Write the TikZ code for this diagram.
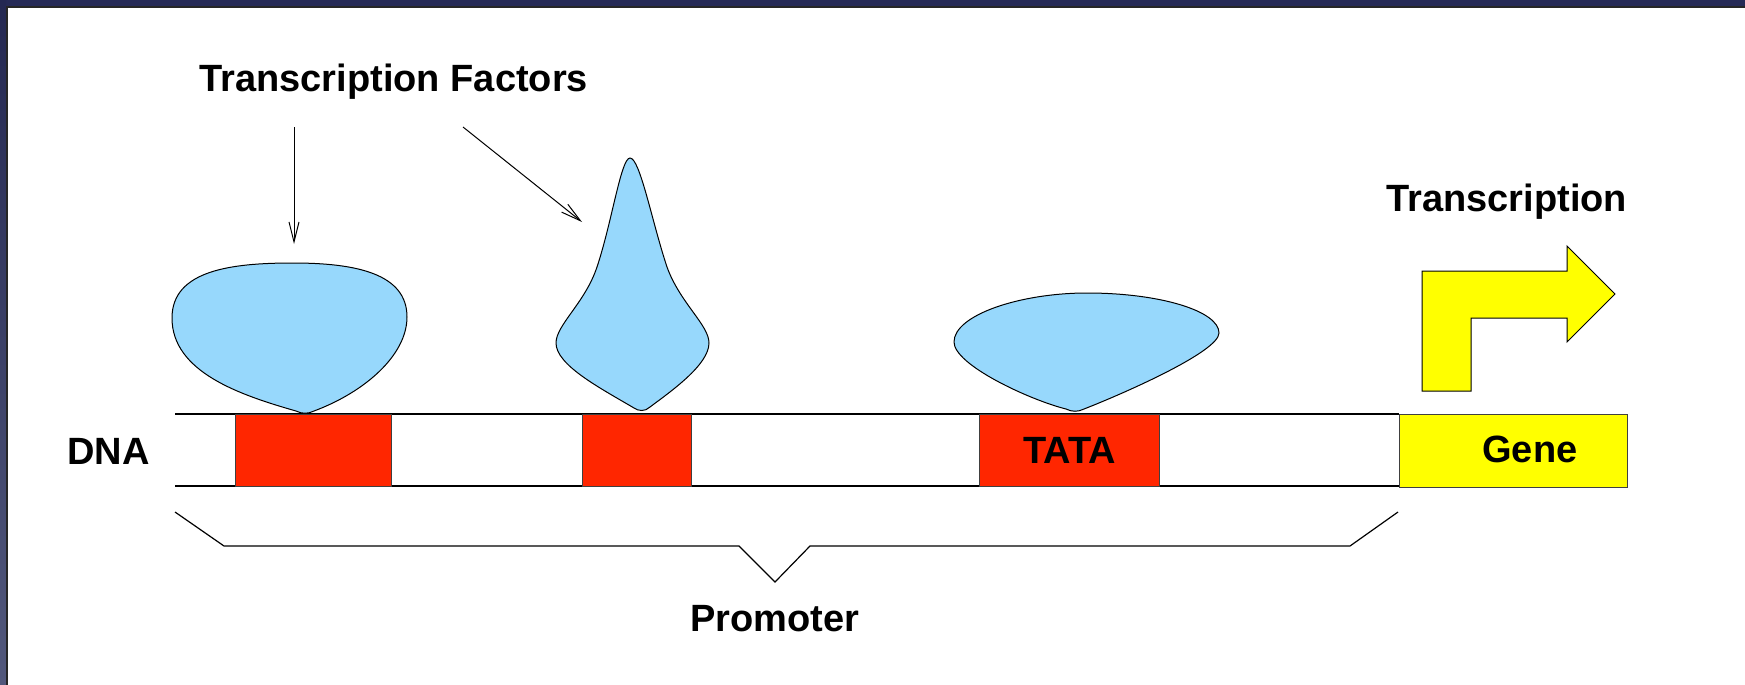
\documentclass[tikz,border=0pt]{standalone}
\usepackage{fontspec}
\setmainfont{Liberation Sans}
\usetikzlibrary{arrows.meta}

\definecolor{tfblue}{RGB}{151,216,252}
\definecolor{boxred}{RGB}{255,38,0}
\definecolor{geneyellow}{RGB}{255,255,0}
\definecolor{framenavy}{RGB}{38,42,86}
\definecolor{framelow}{RGB}{82,88,124}

\begin{document}
\begin{tikzpicture}[x=0.5pt,y=-0.5pt,
  lbl/.style={font=\fontsize{19}{22}\selectfont\bfseries, inner sep=0pt, anchor=base west},
  factor/.style={draw=black, line width=0.5pt, fill=tfblue},
  site/.style={draw=black!75, line width=0.5pt, fill=boxred, minimum height=36pt,
    inner sep=0pt, anchor=north west, font=\fontsize{19}{22}\selectfont\bfseries},
  genebox/.style={draw=black!75, line width=0.5pt, fill=geneyellow, minimum height=36.5pt,
    minimum width=114pt, inner sep=0pt, anchor=north west},
  strand/.style={draw=black, line width=0.7pt},
  pointer/.style={draw=black, line width=0.5pt,
    -{Straight Barb[length=10pt, width=5pt]}},
  bracket/.style={draw=black, line width=0.6pt},
  bentarrow/.style={draw=black, line width=0.5pt, fill=geneyellow}
]
% page area
\fill[white] (0,0) rectangle (1745,685);
\useasboundingbox (0,0) rectangle (1745,685);

% window frame (top and left edges)
\fill[framenavy] (0,0) rectangle (1745,6);
\shade[top color=framenavy!95!black, bottom color=framelow] (0,0) rectangle (6,685);
\fill[black!85] (6,6) rectangle (1745,7.5);
\fill[black!85] (6,6) rectangle (7.5,685);

% DNA strand
\draw[strand] (175,414) -- (1399,414);
\draw[strand] (175,486) -- (1399,486);

% binding sites and gene
\node[site, minimum width=78pt] (site1) at (235,414) {};
\node[site, minimum width=54.5pt] (site2) at (582,414) {};
\node[site, minimum width=90pt] (tata) at (979,414) {TATA};
\node[genebox] (gene) at (1399,414) {};
\node[lbl] (genelbl) at (1482,462) {Gene};

% transcription factors
\path[factor] (296,411) .. controls (240,395) and (172,372) .. (172,318)
  .. controls (172,270) and (232,263) .. (293,263)
  .. controls (357,263) and (407,274) .. (407,317)
  .. controls (407,355) and (365,392) .. (314,411)
  .. controls (308,414) and (302,414) .. (296,411) -- cycle;

\path[factor] (630,158) .. controls (621,158) and (612,222) .. (597,267)
  .. controls (585,303) and (556,325) .. (556,343)
  .. controls (556,365) and (600,388) .. (634,408)
  .. controls (638,411) and (645,412) .. (650,407)
  .. controls (670,392) and (709,365) .. (709,343)
  .. controls (709,325) and (680,303) .. (667,267)
  .. controls (652,222) and (640,158) .. (630,158) -- cycle;

\path[factor] (1066,409) .. controls (1030,400) and (954,365) .. (954,342)
  .. controls (954,315) and (1020,293) .. (1087,293)
  .. controls (1160,293) and (1219,311) .. (1219,333)
  .. controls (1219,352) and (1120,395) .. (1084,409)
  .. controls (1078,412) and (1072,412) .. (1066,409) -- cycle;

% transcription start arrow
\path[bentarrow] (1422,391) -- (1422,271) -- (1567,271) -- (1567,246) -- (1615,294)
  -- (1567,342) -- (1567,318) -- (1471,318) -- (1471,391) -- cycle;

% labels
\node[lbl] (tflbl) at (199,91) {Transcription Factors};
\node[lbl] (dnalbl) at (67,464) {DNA};
\node[lbl] (txlbl) at (1386,211) {Transcription};
\node[lbl] (promlbl) at (690,631) {Promoter};

% pointers from the factor label
\coordinate (tfa) at (294,127);
\coordinate (tfa-end) at (294,244);
\coordinate (tfb) at (463,127);
\coordinate (tfb-end) at (582,222);
\draw[pointer] (tfa) -- (tfa-end);
\draw[pointer] (tfb) -- (tfb-end);

% promoter bracket
\coordinate (brl) at (175,512);
\coordinate (brr) at (1398,512);
\draw[bracket] (brl) -- (224,546) -- (739,546) -- (775,582) -- (810,546) -- (1350,546) -- (brr);
\end{tikzpicture}
\end{document}
